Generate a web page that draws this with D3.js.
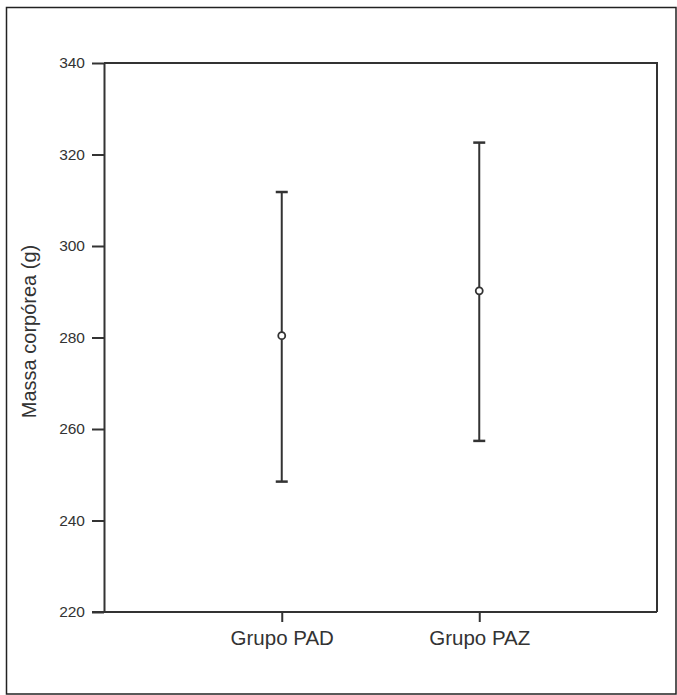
<!DOCTYPE html>
<html>
<head>
<meta charset="utf-8">
<script src="https://cdn.jsdelivr.net/npm/d3@7"></script>
<style>
  html, body { margin: 0; padding: 0; background: #fff; }
  svg text { font-family: "Liberation Sans", Arial, sans-serif; fill: #333; }
</style>
</head>
<body>
<div id="chart"></div>
<script>
// data
const groups = ["Grupo PAD", "Grupo PAZ"];
const means  = [280.4, 290.2];
const lower  = [248.5, 257.4];
const upper  = [311.8, 322.6];
const yTicks = [220, 240, 260, 280, 300, 320, 340];

const data = groups.map((g, i) => ({ g, mean: means[i], lo: lower[i], hi: upper[i] }));

const W = 677, H = 695;
const margin = { top: 63, right: 20, bottom: 82, left: 104 };
const width  = 657 - margin.left;
const height = 612 - margin.top;
const ink = "#333";

const svg = d3.select("#chart").append("svg")
  .attr("width", W)
  .attr("height", H);

// outer frame
svg.append("rect")
  .attr("x", 6.5).attr("y", 7.5)
  .attr("width", 669.5).attr("height", 686.5)
  .attr("fill", "none")
  .attr("stroke", "#222")
  .attr("stroke-width", 1.5);

const g = svg.append("g")
  .attr("transform", `translate(${margin.left},${margin.top})`);

const x = d3.scalePoint().domain(groups).range([0, width]).padding(0.9);
const y = d3.scaleLinear().domain([220, 340]).range([height, 0]);

// plot box (top and right)
g.append("path")
  .attr("d", `M0,0H${width}V${height}`)
  .attr("fill", "none")
  .attr("stroke", ink)
  .attr("stroke-width", 2);

// y axis
const ya = g.append("g")
  .call(d3.axisLeft(y).tickValues(yTicks).tickSize(12).tickPadding(7).tickSizeOuter(0));
ya.select(".domain").attr("stroke", ink).attr("stroke-width", 2);
ya.selectAll(".tick line").attr("stroke", ink).attr("stroke-width", 2);
ya.selectAll(".tick text").style("font-size", "15.5px").attr("fill", "#222");

// x axis
const xa = g.append("g")
  .attr("transform", `translate(0,${height})`)
  .call(d3.axisBottom(x).tickSize(10).tickPadding(8).tickSizeOuter(0));
xa.select(".domain").attr("d", `M-12,0H${width}`).attr("stroke", ink).attr("stroke-width", 2);
xa.selectAll(".tick line").attr("stroke", ink).attr("stroke-width", 2);
xa.selectAll(".tick text").style("font-size", "20.5px").attr("fill", ink);

// y title
g.append("text")
  .attr("transform", "rotate(-90)")
  .attr("x", -height / 2 + 6)
  .attr("y", -68)
  .attr("text-anchor", "middle")
  .style("font-size", "20px")
  .text("Massa corpórea (g)");

// error bars
const bars = g.selectAll(".bar").data(data).enter().append("g").attr("class", "bar");

bars.append("line")
  .attr("x1", d => x(d.g)).attr("x2", d => x(d.g))
  .attr("y1", d => y(d.hi)).attr("y2", d => y(d.lo))
  .attr("stroke", ink).attr("stroke-width", 2);

bars.append("line")
  .attr("x1", d => x(d.g) - 6).attr("x2", d => x(d.g) + 6)
  .attr("y1", d => y(d.hi)).attr("y2", d => y(d.hi))
  .attr("stroke", ink).attr("stroke-width", 2.5);

bars.append("line")
  .attr("x1", d => x(d.g) - 6).attr("x2", d => x(d.g) + 6)
  .attr("y1", d => y(d.lo)).attr("y2", d => y(d.lo))
  .attr("stroke", ink).attr("stroke-width", 2.5);

bars.append("circle")
  .attr("cx", d => x(d.g))
  .attr("cy", d => y(d.mean))
  .attr("r", 3.5)
  .attr("fill", "#fff")
  .attr("stroke", ink)
  .attr("stroke-width", 1.8);
</script>
</body>
</html>
